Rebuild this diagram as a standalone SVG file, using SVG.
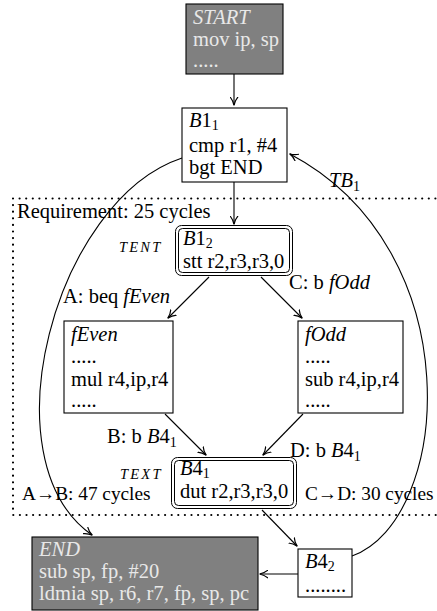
<svg xmlns="http://www.w3.org/2000/svg" width="437" height="611" viewBox="0 0 437 611" font-family="'Liberation Serif','DejaVu Serif',serif">
<defs>
<marker id="ah" viewBox="0 0 10 10" refX="9" refY="5" markerWidth="9" markerHeight="9" markerUnits="userSpaceOnUse" orient="auto">
<path d="M0,0.5 Q4,4 9.5,5 Q4,6 0,9.5" fill="none" stroke="#000" stroke-width="1.3"/>
</marker>
</defs>
<style>
text{font-family:"Liberation Serif","DejaVu Serif",serif;font-size:20.5px;fill:#000}
.it{font-style:italic}
.lt{fill:#e8e8e8}
.sub{font-size:14px;font-style:normal}
.cyc{font-size:19.3px}
.sc{font-size:14.5px;font-style:italic;letter-spacing:2.2px}
.box{fill:#fff;stroke:#000;stroke-width:1.1}
.gbox{fill:#808080;stroke:#000;stroke-width:1.1}
.dbl{fill:none;stroke:#000;stroke-width:1}
.edge{fill:none;stroke:#000;stroke-width:1.1;marker-end:url(#ah)}
.dot{fill:none;stroke:#000;stroke-width:2.2;stroke-linecap:round;stroke-dasharray:0 6.6}
</style>
<rect width="437" height="611" fill="#fff"/>
<g id="region">
<path class="dot" d="M13,198.5 H437 M13,198.5 V515 H437"/>
<text x="17" y="218">Requirement:  25 cycles</text>
<text class="cyc" x="22" y="500">A→B: 47 cycles</text>
<text class="cyc" x="305" y="500">C→D: 30 cycles</text>
</g>
<g id="connectors">
<path class="edge" d="M234,74 V105"/>
<path class="edge" d="M234,182 V224"/>
<path class="edge" d="M209,277 L168,318"/>
<path class="edge" d="M261,277 L302,318"/>
<path class="edge" d="M165,414 L206,455"/>
<path class="edge" d="M303,414 L263,455"/>
<path class="edge" d="M262,510 L297,546"/>
<path class="edge" d="M298,574 H260"/>
<path class="edge" d="M182,158 C55,200 -15,460 92,535"/>
<path class="edge" d="M352,556 C452,520 472,250 290,154"/>
<text class="it" x="329" y="187">TB<tspan class="sub" dy="4">1</tspan></text>
<text x="63" y="303">A: beq <tspan class="it">fEven</tspan></text>
<text x="289" y="289">C: b <tspan class="it">fOdd</tspan></text>
<text x="107" y="443">B: b <tspan class="it">B</tspan>4<tspan class="sub" dy="4">1</tspan></text>
<text x="290" y="457">D: b <tspan class="it">B</tspan>4<tspan class="sub" dy="4">1</tspan></text>
</g>
<g id="START">
<rect class="gbox" x="186" y="4" width="97" height="70"/>
<text class="lt it" x="193" y="24">START</text>
<text class="lt" x="193" y="46">mov ip, sp</text>
<text class="lt" x="193" y="67">.....</text>
</g>
<g id="B1_1">
<rect class="box" x="182" y="108" width="105" height="74"/>
<text x="189" y="127"><tspan class="it">B</tspan>1<tspan class="sub" dy="3">1</tspan></text>
<text x="189" y="152">cmp r1, #4</text>
<text x="189" y="174">bgt END</text>
</g>
<g id="B1_2">
<rect class="dbl" x="175.5" y="225.5" width="117" height="50" rx="6"/>
<rect class="dbl" x="178.5" y="228.5" width="111" height="44" rx="4"/>
<text class="sc" x="119" y="252">TENT</text>
<text x="183" y="245"><tspan class="it">B</tspan>1<tspan class="sub" dy="3">2</tspan></text>
<text x="183" y="268">stt r2,r3,r3,0</text>
</g>
<g id="fEven">
<rect class="box" x="64" y="321" width="109" height="92"/>
<text class="it" x="71" y="341">fEven</text>
<text x="71" y="363">.....</text>
<text x="71" y="386">mul r4,ip,r4</text>
<text x="71" y="407">.....</text>
</g>
<g id="fOdd">
<rect class="box" x="298" y="321" width="105" height="92"/>
<text class="it" x="305" y="341">fOdd</text>
<text x="305" y="363">.....</text>
<text x="305" y="386">sub r4,ip,r4</text>
<text x="305" y="407">.....</text>
</g>
<g id="B4_1">
<rect class="dbl" x="171.5" y="457.5" width="125" height="51" rx="6"/>
<rect class="dbl" x="174.5" y="460.5" width="119" height="45" rx="4"/>
<text class="sc" x="120" y="479">TEXT</text>
<text x="180" y="475"><tspan class="it">B</tspan>4<tspan class="sub" dy="3">1</tspan></text>
<text x="180" y="498">dut r2,r3,r3,0</text>
</g>
<g id="END">
<rect class="gbox" x="32" y="537" width="226" height="73"/>
<text class="lt it" x="39" y="556">END</text>
<text class="lt" x="39" y="578">sub sp, fp, #20</text>
<text class="lt" x="39" y="600">ldmia sp, r6, r7, fp, sp, pc</text>
</g>
<g id="B4_2">
<rect class="box" x="298" y="549" width="54" height="48"/>
<text x="305" y="568"><tspan class="it">B</tspan>4<tspan class="sub" dy="2.5">2</tspan></text>
<text x="305" y="592">........</text>
</g>
</svg>
